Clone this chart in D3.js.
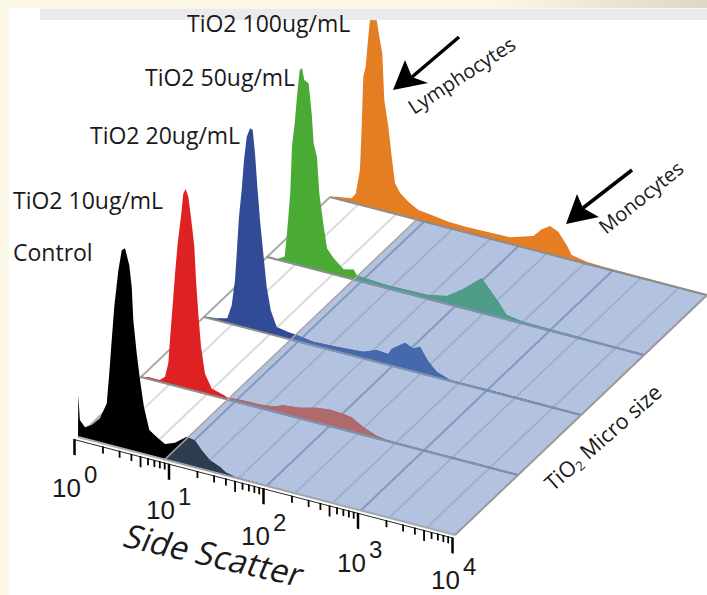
<!DOCTYPE html>
<html><head><meta charset="utf-8">
<script src="https://d3js.org/d3.v7.min.js"></script>
<style>html,body{margin:0;padding:0;background:#fff;overflow:hidden}svg{display:block}text{font-family:"Open Sans",sans-serif;fill:#1a1a1a}</style>
</head><body><div id="chart"></div>
<script>
// Side-scatter exponent (log10) and event count
const controlLog=[0,0.003,0.02,0.074,0.145,0.233,0.305,0.332,0.358,0.385,0.428,0.464,0.499,0.544,0.57,0.587,0.623,0.658,0.7,0.757,0.852,0.923,1.029,1.153,1.241,1.312,1.4,1.507,1.57,1.67,2,4];
const controlCount=[0,42,17.5,11.5,15.6,24.4,41,72,106,140,177,198,201,185,164,131,99,73,47,25.5,19.5,15.5,19.4,28.4,27,19,11,7,3,1,0.5,0];
const redLog=[0.007,0.077,0.2,0.255,0.29,0.318,0.343,0.361,0.389,0.424,0.449,0.474,0.502,0.53,0.566,0.584,0.608,0.637,0.679,0.75,0.891,0.909,1.05,1.263,1.404,1.51,1.687,1.864,2.005,2.11,2.235,2.36,2.5,2.606,3,3.5,4];
const redCount=[0,2,2,6.5,21,58,88.6,112,143,170.6,194.6,199.5,192.5,173,144,111,78.5,45.8,20,7,3,2,3,3.5,5,8.7,10.5,15,16.5,16,14.6,7.7,2.5,1,0.8,1,0.5];
const blueLog=[0.029,0.135,0.247,0.294,0.329,0.347,0.371,0.4,0.424,0.453,0.488,0.517,0.541,0.566,0.594,0.629,0.665,0.708,0.772,0.894,0.984,1.16,1.408,1.69,1.832,1.956,1.99,2.133,2.22,2.292,2.38,2.469,2.61,3,3.5,4];
const blueCount=[1,2,4.8,19,45,72,109,137,167,191,200.7,199.7,177,144,111.6,79,46.6,24,9,7,6,3.7,4.8,6.7,11.9,11,16.8,26.6,23,26.5,13.7,5.8,1,1.2,1,0.5];
const greenLog=[0,0.035,0.106,0.188,0.212,0.247,0.265,0.294,0.318,0.347,0.371,0.396,0.442,0.477,0.495,0.53,0.555,0.602,0.637,0.708,0.814,0.92,0.955,1.27,1.711,1.907,2.066,2.278,2.366,2.454,2.543,2.72,3,3.5,4];
const greenCount=[0,1,0.5,5,29,70,117,141,168,195.5,198,186.7,184.5,152,126,113,77,45,24,16,7.6,10,5,3,3.9,7.7,18,34.5,25,15.5,4.3,2,1.5,1,0.5];
const orangeLog=[0,0.071,0.23,0.273,0.318,0.336,0.353,0.379,0.4,0.424,0.495,0.523,0.555,0.576,0.619,0.655,0.69,0.743,0.831,0.937,1.079,1.255,1.45,1.663,1.91,2.157,2.246,2.334,2.422,2.511,2.564,2.724,2.9,3.4,4];
const orangeCount=[0,2,4.3,10,35,78.5,129,139.6,163.5,187.4,189,173,157,111,85.5,56,30.6,22.5,15.7,10,8.4,6,5.6,6,6.5,13.9,22.7,28.2,24.7,13.5,4.8,2,1.3,1,0.6];

const seriesNames=["Control","TiO2 10ug/mL","TiO2 20ug/mL","TiO2 50ug/mL","TiO2 100ug/mL"];
const seriesColors=["#000000","#de2224","#324b96","#4aab34","#e57d22"];
const gatedColors=["#2e3c50","#ae6a6c","#4668ac","#4f9c88","#e57d22"];
const seriesLogs=[controlLog,redLog,blueLog,greenLog,orangeLog];
const seriesCounts=[controlCount,redCount,blueCount,greenCount,orangeCount];
const labelX=[13,13,90,145,187];
const labelY=[261,209,144,86,32];

const majorTicks=[1,10,100,1000,10000];
const fiveTicks=[5,50,500,5000];
const minorTicks=[2,3,4,6,7,8,9,20,30,40,60,70,80,90,200,300,400,600,700,800,900,2000,3000,4000,6000,7000,8000,9000];
const tickBases=["10","10","10","10","10"];
const tickExps=["0","1","2","3","4"];
const gridMajor=[1,2,3];
const gridMinor=[0.3,0.7,1.3,1.7,2.3,2.7,3.3,3.7];
const gateLog=0.92;

const W=707,H=595,slope=0.26;
const svg=d3.select("#chart").append("svg").attr("width",W).attr("height",H);
const defs=svg.append("defs");
const g=defs.append("linearGradient").attr("id","top");
g.append("stop").attr("offset","0.68").attr("stop-color","#fdf9e8");
g.append("stop").attr("offset","1").attr("stop-color","#dcd8c4");

svg.append("rect").attr("width",W).attr("height",H).attr("fill","#fdf9e8");
svg.append("rect").attr("width",W).attr("height",8).attr("fill","url(#top)");
svg.append("rect").attr("x",9).attr("y",8).attr("width",W-9).attr("height",H-8).attr("fill","#fff");
svg.append("rect").attr("x",40).attr("y",8.5).attr("width",W-40).attr("height",11.5).attr("fill","#ebebeb");

const xs=d3.scaleLinear().domain([0,4]).range([0,377]);
const depthX=d3.scaleLinear().domain([0,4]).range([78,330]);
const depthY=d3.scaleLinear().domain([0,4]).range([437,197]);
const hs=d3.scaleLinear().domain([0,200]).range([0,200]);
const px=(l,d)=>depthX(d)+xs(l);
const py=(l,d)=>depthY(d)+slope*xs(l);
const pt=(l,d)=>[px(l,d),py(l,d)];
const line=d3.line();

const plane=[pt(gateLog,0),pt(gateLog,4),pt(4,4),pt(4,0)];
defs.append("clipPath").attr("id","gate").append("path").attr("d",line(plane)+"Z");

// floor grid
const gridG=svg.append("g").attr("fill","none");
gridG.selectAll(".m").data(gridMinor).join("path").attr("d",l=>line([pt(l,0),pt(l,4)]))
  .attr("stroke","#dadada").attr("stroke-width",2);
gridG.selectAll(".M").data(gridMajor).join("path").attr("d",l=>line([pt(l,0),pt(l,4)]))
  .attr("stroke","#a4aec0").attr("stroke-width",2);
gridG.append("path").attr("d",line([pt(0,0),pt(0,4)])).attr("stroke","#a8a8a8").attr("stroke-width",2);

const areaFor=d=>d3.area().x(r=>px(r[0],d)).y0(r=>py(r[0],d)).y1(r=>py(r[0],d)-hs(r[1]))(d3.zip(seriesLogs[d],seriesCounts[d]));
const order=d3.range(4,-1,-1);

// histograms back to front
order.forEach(d=>{
  svg.append("path").attr("d",areaFor(d)).attr("fill",seriesColors[d]);
  svg.append("path").attr("d",line([pt(0,d),pt(4,d)]))
    .attr("stroke",d===0?"#b0b0b0":"#8e8e8e").attr("stroke-width",2).attr("fill","none");
});

// gated region overlay
svg.append("path").attr("d",line(plane)+"Z").attr("fill","rgb(97,130,190)").attr("fill-opacity",0.49);
const gated=svg.append("g").attr("clip-path","url(#gate)");
order.forEach(d=>{
  gated.append("path").attr("d",areaFor(d)).attr("fill",gatedColors[d]);
  gated.append("path").attr("d",line([pt(gateLog,d),pt(4,d)]))
    .attr("stroke",d===4?"#8e8e8e":(d===0?"#a9b0ba":"#7f92ad")).attr("stroke-width",2).attr("fill","none");
});
svg.append("path").attr("d",line([plane[0],plane[1]])).attr("stroke","#a6a6a6").attr("stroke-width",1.6).attr("fill","none");
svg.append("path").attr("d",line([plane[3],plane[2]])).attr("stroke","#9a9a9a").attr("stroke-width",2).attr("fill","none");

// axis: d3 axis sheared so ticks stay vertical on the slanted base line
const xLog=d3.scaleLog().domain([1,10000]).range([0,378]);
const axisT=`matrix(1,${slope},0,1,74,439)`;
const drawAxis=(vals,size,w,domain)=>{
  const a=svg.append("g").attr("transform",axisT)
    .call(d3.axisBottom(xLog).tickValues(vals).tickSize(size).tickSizeOuter(0).tickFormat(""));
  a.selectAll(".tick line").attr("stroke","#000").attr("stroke-width",w);
  a.select(".domain").attr("stroke",domain?"#000":"none").attr("stroke-width",0.8);
};
drawAxis(minorTicks,7,1.8,true);
drawAxis(fiveTicks,11,1.8,false);
drawAxis(majorTicks,16,2.5,false);

// tick labels: base and exponent in one text
const labX=[52,146,241,337,431], labY=[497,519,545,572,589];
const labels=svg.selectAll(".tl").data(tickBases).join("text").attr("x",(d,i)=>labX[i]).attr("y",(d,i)=>labY[i])
  .style("font-family","'Liberation Sans',sans-serif").attr("font-size",26);
labels.append("tspan").text(d=>d);
labels.append("tspan").attr("dx",3).attr("dy",-14).attr("font-size",24).text((d,i)=>tickExps[i]);

svg.append("text").attr("transform","translate(121,546) rotate(13) skewX(-10)")
  .attr("font-size",33).text("Side Scatter");

// series labels
svg.selectAll(".sl").data(seriesNames).join("text").attr("x",(d,i)=>labelX[i]).attr("y",(d,i)=>labelY[i])
  .attr("font-size",23).text(d=>d);

// annotations
svg.append("text").attr("transform","translate(414,115) rotate(-33)").attr("font-size",20).text("Lymphocytes");
svg.append("text").attr("transform","translate(606,235) rotate(-39)").attr("font-size",20).text("Monocytes");
const micro=svg.append("text").attr("transform","translate(553,492) rotate(-41.5)").attr("font-size",21.5);
micro.append("tspan").text("TiO");
micro.append("tspan").attr("font-size",13).attr("dy",3).text("2");
micro.append("tspan").attr("dy",-3).text(" Micro size");

const arrows=[
  {tail:[459,37],notch:[412,77],tip:[393,90],w1:[405,60],w2:[428,83]},
  {tail:[632,170],notch:[583,208],tip:[566,224],w1:[577,194],w2:[599,217]}];
arrows.forEach(a=>{
  svg.append("path").attr("d",line([a.tail,a.notch])).attr("stroke","#000").attr("stroke-width",3.5);
  svg.append("path").attr("d",line([a.tip,a.w1,a.notch,a.w2])+"Z").attr("fill","#000");
});
</script></body></html>
